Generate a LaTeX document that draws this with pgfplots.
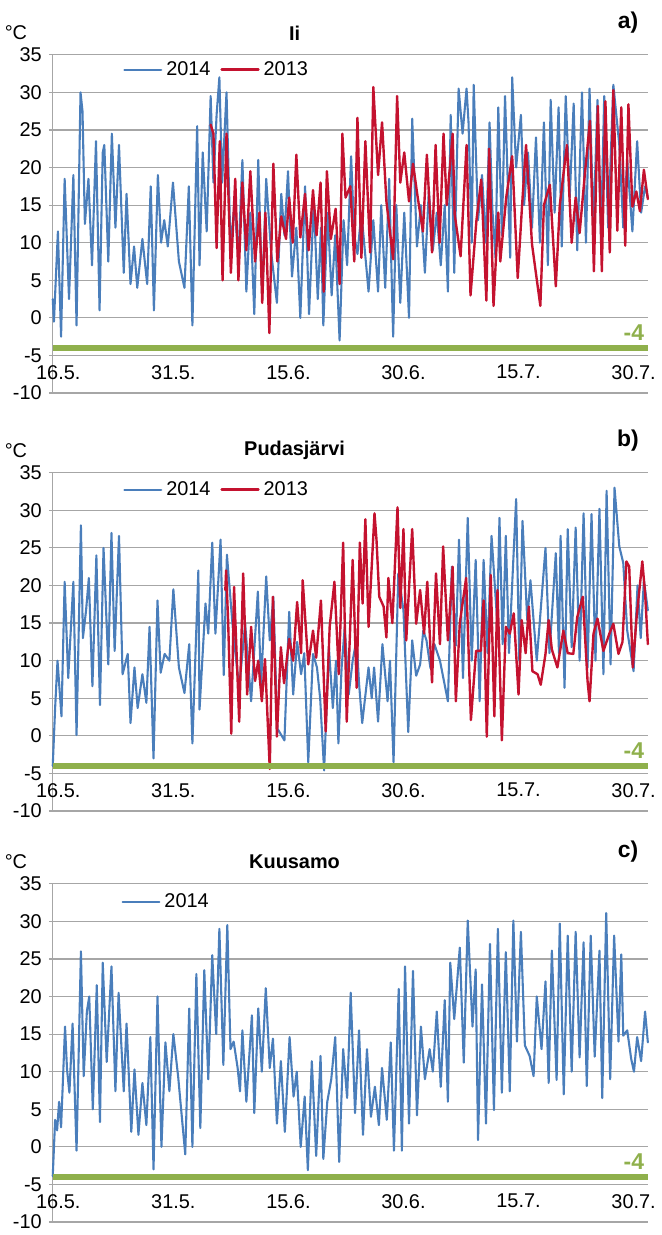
\documentclass[border=0pt]{standalone}
\usepackage{fontspec}
\setmainfont{Liberation Sans}
\usepackage{pgfplots}
\pgfplotsset{compat=1.18}
\definecolor{line14}{HTML}{4A7EBB}
\definecolor{line13}{HTML}{C4122F}
\definecolor{frost}{HTML}{8FB04C}
\definecolor{gridgray}{HTML}{A6A6A6}

% one panel = one axis, 1px of the original = 0.5pt
\pgfplotsset{
  tempaxis/.style={
    scale only axis, width=299pt, height=170pt,
    xmin=0, xmax=75, ymin=-10, ymax=35,
    ytick={-10,-5,...,35},
    xtick={0.7,15.2,29.7,44.2,58.7,73.2},
    xticklabels={16.5.,31.5.,15.6.,30.6.,15.7.,30.7.},
    axis lines*=left,
    axis line style={draw=gridgray, line width=0.6pt},
    ymajorgrids, grid style={gridgray, line width=0.6pt},
    xtick style={draw=none},
    ytick style={draw=gridgray, line width=0.6pt},
    tick align=outside, major tick length=2pt,
    tick label style={font=\fontsize{10}{12}\selectfont, text=black},
    /pgf/number format/assume math mode=true,
    xticklabel style={yshift=19.5pt},
    clip=false,
    legend columns=2,
    legend style={draw=none, fill=none, inner sep=0pt,
      font=\fontsize{10}{12}\selectfont, anchor=west,
      /tikz/every even column/.append style={column sep=3pt}},
    legend image code/.code={\draw[##1] (0pt,0pt) -- (18.5pt,0pt);},
    every axis plot/.append style={line join=round, line cap=round},
  },
  y14/.style={line14, line width=1.05pt},
  y13/.style={line13, line width=1.2pt},
}

\begin{document}
\begin{tikzpicture}
\path[use as bounding box] (0,0) rectangle (332.5pt,-620.5pt);

% ---------------- a) Ii ----------------
\node[font=\fontsize{10}{12}\selectfont] at (8pt,-16.5pt) {°C};
\node[font=\bfseries\fontsize{10}{12}\selectfont] at (148pt,-16.5pt) {Ii};
\node[font=\bfseries\fontsize{11.5}{13}\selectfont] at (315.5pt,-11.5pt) {a)};
\begin{axis}[tempaxis, at={(26.5pt,-27.5pt)}, anchor=north west,
  legend style={at={(0.118,0.956)}}]
\addplot[y14] coordinates {
(0,2.5)(0.15,-0.5)(0.65,11.5)(1.05,-2.5)(1.5,18.5)(2.05,2.5)(2.6,19)(3.0,-1)(3.5,30)(3.75,27.5)
(4.05,12.5)(4.5,18.5)(4.95,7)(5.45,23.5)(5.9,1)(6.3,22)(6.5,23)(7.0,7.5)(7.45,24.5)(7.9,12)
(8.35,23)(8.95,6)(9.3,16.5)(9.8,4.5)(10.25,9.5)(10.65,4)(11.3,10.5)(11.9,4.5)(12.35,17.5)(12.75,1)
(13.25,19)(13.65,10)(14.05,13)(14.5,9.5)(15.15,18)(15.9,7.5)(16.6,4)(17.15,17.5)(17.6,-1)(18.2,25.5)
(18.5,7)(18.9,22)(19.4,11.5)(19.9,29.5)(20.25,18)(20.65,27)(21.0,32)(21.35,18)(21.9,30)(22.4,9.5)
(22.9,15)(23.4,8)(23.9,21)(24.4,3.5)(24.9,14)(25.4,0.5)(25.9,21)(26.4,2.5)(26.9,18.5)(27.5,9)
(28.25,2)(28.8,16.5)(29.2,11)(29.65,19.5)(30.15,5.5)(30.7,12)(31.2,0)(31.8,17.5)(32.3,0.5)(32.9,15.5)
(33.4,2.5)(33.8,12)(34.1,-1)(34.65,14)(35.15,3)(35.6,11)(36.15,-3)(36.65,13)(37.1,7)(37.6,21.5)
(38.0,11)(38.4,8.5)(38.9,14)(39.8,3.5)(40.4,13)(41.0,3.5)(41.4,15)(41.9,4)(42.4,18.5)(42.9,-2.5)
(43.3,15)(43.8,2)(44.3,14)(44.9,0)(45.3,26.5)(45.9,9.5)(46.4,15)(46.9,6)(47.4,17)(47.9,9)
(48.4,14)(48.9,7)(49.4,15)(49.8,3.5)(50.15,27)(50.6,6)(51.15,30.5)(51.65,24.5)(52.15,30.5)(52.4,26)
(52.8,10)(53.05,31)(53.6,13)(54.1,19)(54.6,10)(55.05,26)(55.4,14.5)(55.8,8)(56.15,28)(56.6,11)
(57.0,29.5)(57.65,8)(57.9,32)(58.4,20)(59.0,27)(59.4,15)(59.9,22)(60.4,12)(60.9,24)(61.4,10)
(61.9,26)(62.4,7)(62.75,29)(63.25,14)(63.75,28)(64.15,9.5)(64.65,29.5)(65.15,16)(65.65,28.5)(66.1,9)
(66.7,30)(67.2,10)(67.65,30.5)(68.15,12)(68.65,29)(69.1,11)(69.5,29.5)(70.0,12)(70.65,31)(71.4,23)
(71.9,12)(72.4,21)(73.05,11.5)(73.65,23.5)(74.15,14)(74.65,17.5)(75,16)
};
\addlegendentry{2014}
\addplot[y13] coordinates {
(19.9,25.7)(20.25,24.5)(20.65,9.3)(21.05,23.5)(21.4,5)(21.9,24.5)(22.45,6)(23.0,18.5)(23.4,5)(23.9,18)
(24.4,9)(24.9,19.5)(25.5,7.5)(26.05,14)(26.4,2)(26.8,14)(27.3,-2)(27.8,20.5)(28.3,7.5)(28.8,13.5)
(29.4,10.5)(29.8,16)(30.25,10)(30.7,21.7)(31.2,10.7)(31.8,16.5)(32.25,9)(32.8,17)(33.25,11)(33.75,18)
(34.15,3.5)(34.55,19.5)(35.05,10.5)(35.65,14.5)(36.15,4.5)(36.5,24.5)(36.9,16)(37.5,17.5)(38.0,7.5)(38.4,26.6)
(38.9,8)(39.4,23.5)(40.0,8.7)(40.4,30.7)(41.0,19)(41.5,26)(42.05,15.5)(42.9,7.8)(43.4,29.5)(43.8,18)
(44.3,22)(44.9,15.5)(45.4,20.5)(46.0,16)(46.65,11.5)(47.15,21.7)(47.8,8.7)(48.25,23)(48.75,10)(49.25,24.5)
(49.65,15)(50.4,24.5)(50.65,13.8)(51.4,8.2)(52.15,23)(52.65,3)(53.4,13)(54.0,18.4)(54.65,2.3)(55.0,22.5)
(55.55,1.6)(56.15,14)(56.4,7.5)(57.15,16)(57.9,21.5)(58.6,5.3)(59.15,15)(59.65,23)(60.4,9.8)(61.45,1.6)
(61.9,15)(62.65,17.7)(63.4,4.2)(63.9,15)(64.8,23)(65.4,10)(65.9,16)(66.4,11.3)(67.05,19)(67.7,26.2)
(68.2,6.2)(68.7,28.2)(69.2,6.2)(69.65,28.8)(70.2,8.7)(70.65,30.3)(71.15,11.6)(71.65,28)(72.15,9.6)(72.55,28.4)
(73.05,14.8)(73.55,16.8)(74.0,14.2)(74.5,19.7)(75,15.8)
};
\addlegendentry{2013}
\addplot[frost, line width=2.6pt, line cap=butt, forget plot] coordinates {(0,-4) (75,-4)};
\node[anchor=base east, font=\bfseries\fontsize{11.5}{13}\selectfont, text=frost] at (axis cs:75.4,-3.05) {-4};
\end{axis}

% ---------------- b) Pudasjärvi ----------------
\node[font=\fontsize{10}{12}\selectfont] at (8pt,-226.5pt) {°C};
\node[font=\bfseries\fontsize{10}{12}\selectfont] at (148pt,-226.5pt) {Pudasjärvi};
\node[font=\bfseries\fontsize{11.5}{13}\selectfont] at (315.5pt,-221.5pt) {b)};
\begin{axis}[tempaxis, at={(26.5pt,-237.5pt)}, anchor=north west,
  legend style={at={(0.118,0.95)}}]
\addplot[y14] coordinates {
(0,-4)(0.3,3.7)(0.6,10)(1.1,2.6)(1.5,20.5)(1.95,7.7)(2.6,20.5)(3.0,0.1)(3.55,28)(3.8,13)
(4.2,16.7)(4.55,21)(5.0,6.6)(5.5,24)(5.95,4.1)(6.4,25)(7.0,9.5)(7.4,27)(7.8,11.3)(8.35,26.6)
(8.8,8.2)(9.45,10.9)(9.8,1.7)(10.3,9.1)(10.7,3.7)(11.3,8.2)(11.8,4.4)(12.2,14.5)(12.7,-3)(13.2,18)
(13.6,8.4)(14.1,10.9)(14.7,10)(15.2,19.5)(15.9,9.1)(16.6,5.7)(17.2,12.2)(17.6,-1)(18.35,22)(18.5,3.5)
(19.25,17.6)(19.6,13.6)(20.1,25.7)(20.5,13.6)(21.15,26.1)(21.55,8.1)(21.95,24.1)(22.75,13.6)(23.5,6.4)(24.25,14.9)
(25.0,4.6)(25.85,19.2)(26.25,6.8)(26.9,21.2)(27.35,12.7)(27.8,18.5)(28.3,1)(29.2,-0.6)(29.8,16.5)(30.3,5.5)
(30.8,12.5)(31.3,8.2)(31.7,11)(32.2,-3.5)(32.8,10.9)(33.3,9.1)(33.7,5)(34.2,-4.6)(34.8,11.8)(35.3,3.7)
(35.7,10)(36.0,-1)(36.4,9)(36.8,14.5)(37.3,5.5)(37.8,10)(38.3,12.9)(38.6,7)(39.0,1.7)(39.8,9.1)
(40.2,5)(40.5,9.1)(41.0,1.9)(41.55,12.2)(42.2,4.6)(42.5,10)(42.95,-3.5)(43.55,21.6)(44.2,16.7)(44.8,0.5)
(45.3,12.7)(45.8,8)(46.3,9.5)(46.7,14)(47.1,12.7)(47.6,9)(48.1,12.2)(48.8,10)(49.8,4.6)(50.3,22.5)
(50.8,12)(51.2,26.1)(51.7,7.7)(52.3,29)(52.8,10)(53.3,23.4)(53.8,4.6)(54.3,23.4)(54.8,11)(55.3,26.6)
(56.0,15.4)(56.3,29)(56.7,12.2)(57.1,26.6)(57.5,11)(58.4,31.5)(58.8,10)(59.2,28.6)(59.8,15.4)(60.2,20.7)
(61.0,10)(62.1,25)(62.6,11)(63.4,24.3)(63.8,11)(64.0,26.6)(64.5,6.4)(64.9,27.5)(65.4,11.8)(65.9,27.7)
(66.4,10)(66.9,29.6)(67.4,9.1)(67.9,29.5)(68.4,10)(68.9,30.2)(69.4,8.2)(69.8,32.6)(70.3,9.5)(70.8,33)
(71.4,25.2)(71.9,23)(72.4,14)(73.2,8.6)(73.7,20)(74.1,13)(74.5,20.7)(75,16.7)
};
\addlegendentry{2014}
\addplot[y13] coordinates {
(21.75,19.4)(21.85,22)(22.1,15.4)(22.5,0.3)(22.85,19.8)(23.5,1.9)(24.0,21.6)(24.5,5.5)(25.0,14.5)(25.5,7.3)
(25.9,10)(26.35,4.6)(26.75,10.2)(27.35,-4.4)(27.75,18.5)(28.25,-0.1)(28.75,11.8)(29.15,7)(29.8,12.9)(30.3,10)
(30.8,17.8)(31.3,11)(31.5,20.7)(32.2,9.5)(32.8,14)(33.2,10.4)(33.8,18)(34.4,0.6)(34.9,14.5)(35.5,20.5)
(36.05,8.2)(36.6,25.7)(37.05,1.9)(37.8,23.4)(38.3,6.4)(38.7,25.7)(39.05,17.6)(39.4,28.8)(39.8,14.5)(40.55,29.6)
(40.8,26.1)(41.15,18.5)(41.7,17.2)(42.05,13.1)(42.3,21)(42.8,15)(43.45,30.4)(43.8,17)(44.2,27.5)(44.55,12.7)
(45.3,27.5)(45.8,14.9)(46.3,19.4)(46.8,13.6)(47.2,20.5)(47.8,7.1)(48.3,21.6)(48.8,12.2)(49.2,25.2)(49.8,12.7)
(50.4,22.5)(50.8,4.6)(51.3,15)(52.1,21)(52.7,2.1)(53.35,11.3)(53.95,11.3)(54.3,18)(54.7,-0.1)(55.2,21.4)
(55.65,2.6)(56.05,19.4)(56.6,-0.6)(57.1,14.5)(57.6,13.6)(58.1,16.3)(58.7,5.5)(59.1,15.4)(59.6,11)(60.0,17.2)
(60.45,8.6)(61.1,8.2)(61.5,6.8)(62.1,10.9)(62.5,15.4)(62.9,11.5)(63.6,9.1)(64.35,14)(64.9,11)(65.6,10.9)
(66.1,15.8)(66.8,18.5)(67.4,7.3)(67.65,4.6)(68.15,13.6)(68.65,15.6)(69.4,11.3)(70.15,13.6)(70.65,14.9)(71.3,10.9)
(71.8,12.5)(72.3,23.2)(72.65,22.5)(73.1,9.1)(73.6,16)(74.3,23.2)(74.65,19)(75,12.2)
};
\addlegendentry{2013}
\addplot[frost, line width=2.6pt, line cap=butt, forget plot] coordinates {(0,-4) (75,-4)};
\node[anchor=base east, font=\bfseries\fontsize{11.5}{13}\selectfont, text=frost] at (axis cs:75.4,-3.05) {-4};
\end{axis}

% ---------------- c) Kuusamo ----------------
\node[font=\fontsize{10}{12}\selectfont] at (8pt,-433pt) {°C};
\node[font=\bfseries\fontsize{10}{12}\selectfont] at (148pt,-433pt) {Kuusamo};
\node[font=\bfseries\fontsize{11.5}{13}\selectfont] at (315.5pt,-428pt) {c)};
\begin{axis}[tempaxis, at={(26.5pt,-444pt)}, anchor=north west,
  legend columns=1, legend style={at={(0.115,0.947)}}]
\addplot[y14] coordinates {
(0,-3.9)(0.3,3.6)(0.55,2.2)(0.8,6)(1.05,2.6)(1.55,16)(1.8,10.3)(2.1,7.2)(2.5,16.4)(3.0,-0.5)
(3.55,26)(3.9,9.4)(4.3,18)(4.6,20)(5.05,5)(5.55,21.5)(5.95,3.3)(6.3,24.5)(6.8,11.3)(7.4,24)
(7.9,7.4)(8.3,20.5)(8.95,7.4)(9.3,16.4)(9.9,2)(10.3,10.3)(10.8,1.6)(11.3,8.5)(11.8,2.9)(12.3,14.6)
(12.7,-3)(13.2,20)(13.7,0)(14.2,13.9)(14.7,7.4)(15.2,15)(15.8,9.4)(16.7,-1)(17.2,18.4)(17.6,0)
(18.1,23)(18.6,2.5)(19.1,23.5)(19.6,9)(20.1,25.5)(20.6,15)(21.0,29)(21.5,10.9)(22.0,29.5)(22.4,13)
(22.8,14)(23.3,10.5)(23.6,7.4)(23.9,15.5)(24.4,6)(25.1,17.5)(25.4,4.5)(25.9,18.4)(26.35,10)(26.85,21.1)
(27.35,10.5)(27.75,14.4)(28.25,3.1)(28.75,11.4)(29.25,2)(29.85,14.6)(30.35,6.7)(30.75,10)(31.25,0)(31.75,6.7)
(32.15,-3.1)(32.65,11.4)(33.2,-1.2)(33.75,12.1)(34.1,-1.6)(34.6,6)(35.1,9)(35.6,14.6)(36.1,-2)(36.6,13)(37.1,6.5)
(37.55,20.5)(38.1,4.5)(38.6,15.5)(39.1,1.6)(39.6,13)(40.1,4)(40.6,8)(41.1,2.9)(41.5,10.5)(42.1,3.6)
(42.6,13.9)(43.0,-0.5)(43.6,21)(44.0,-0.5)(44.4,24)(44.9,3.1)(45.4,23.4)(45.9,4.2)(46.4,16)(46.9,9)
(47.5,13)(47.9,10)(48.4,18)(48.9,8)(49.4,19.5)(49.8,6)(50.1,24.5)(50.6,17)(51.3,26.5)(51.8,11.2)
(52.3,30.1)(52.9,16)(53.3,23.6)(53.6,0.9)(54.1,21.6)(54.6,3.1)(55.1,27)(55.6,4.9)(56.1,29)(56.6,7.2)
(57.1,25.9)(57.6,7.4)(58.05,30.1)(58.5,14)(59.0,28.6)(59.5,13.5)(60.1,12.1)(60.6,9.4)(61.0,20)(61.6,13)
(62.1,22)(62.5,8.5)(62.9,26.1)(63.5,8.9)(63.9,29.7)(64.4,7)(64.9,28.1)(65.4,10)(65.9,28.6)(66.4,11.9)
(66.9,27.2)(67.3,8.1)(67.8,28.1)(68.3,12)(68.9,26.1)(69.25,6.5)(69.75,31.1)(70.25,9)(70.75,28.1)(71.3,14)
(71.65,25.6)(71.9,14.8)(72.4,15.5)(72.9,11.7)(73.25,10)(73.65,14.6)(74.15,11.4)(74.65,18)(75,13.9)
};
\addlegendentry{2014}
\addplot[frost, line width=2.6pt, line cap=butt, forget plot] coordinates {(0,-4) (75,-4)};
\node[anchor=base east, font=\bfseries\fontsize{11.5}{13}\selectfont, text=frost] at (axis cs:75.4,-3.05) {-4};
\end{axis}
\end{tikzpicture}
\end{document}
